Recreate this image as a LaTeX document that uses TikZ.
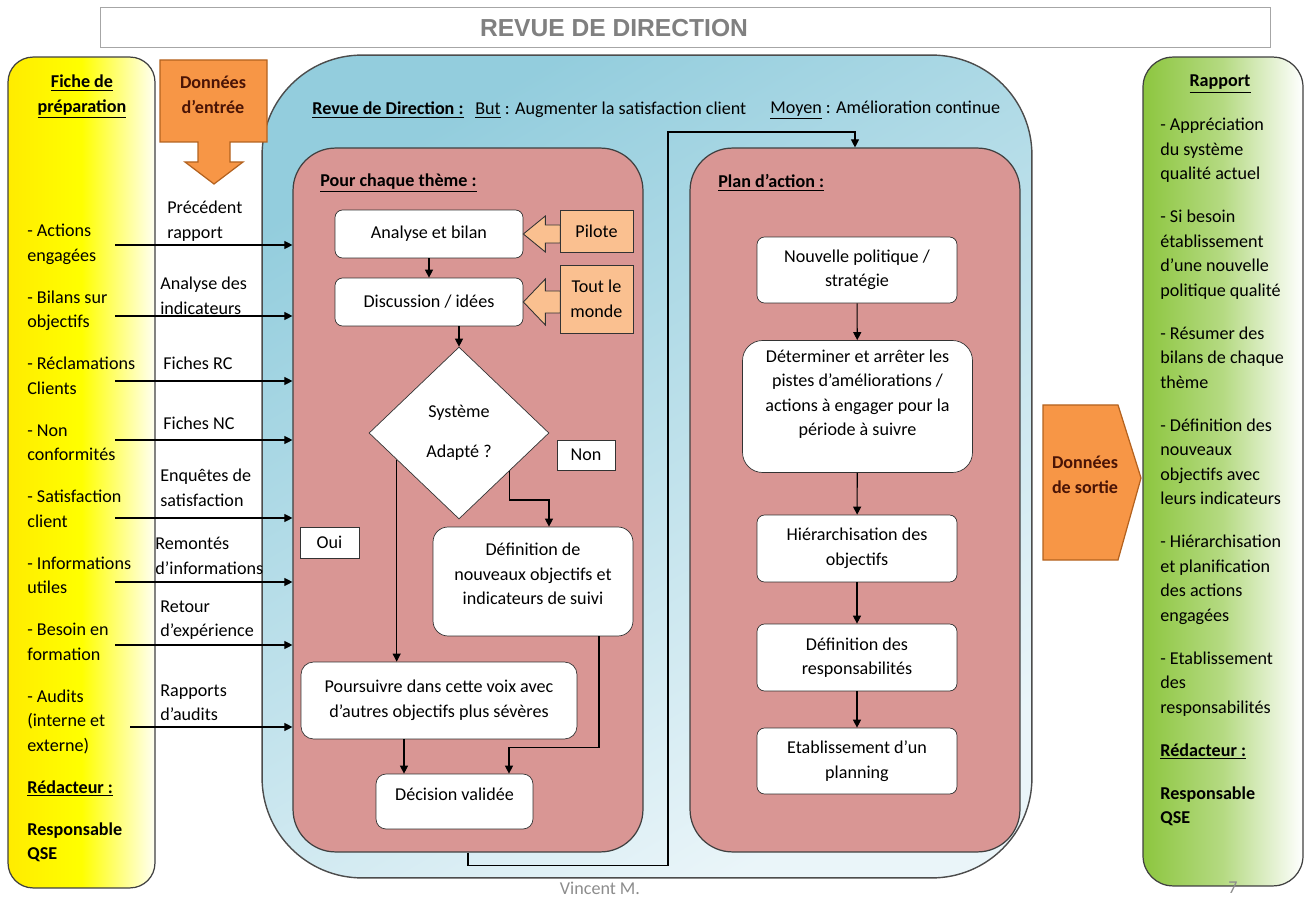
\documentclass[tikz,border=0pt]{standalone}
\usepackage{fontspec}
\setmainfont{Carlito}
\newfontfamily\titlefont{Liberation Sans}
\usepackage{tikz}
\usetikzlibrary{arrows.meta,positioning,shapes.geometric,calc}

\definecolor{pinkfill}{HTML}{D99694}
\definecolor{orangefill}{HTML}{F79646}
\definecolor{orangeline}{HTML}{B3621F}
\definecolor{peach}{HTML}{FAC090}
\definecolor{bluetop}{HTML}{93CDDD}
\definecolor{bluebot}{HTML}{EAF5F9}
\definecolor{lime}{HTML}{8DC63F}
\definecolor{maroon}{HTML}{4A1406}

\begin{document}
\begin{tikzpicture}[
  x=0.02cm, y=-0.02cm,
  every node/.style={font=\fontsize{10.3}{13.94}\selectfont},
  bold/.style={font=\fontsize{10.3}{13.94}\selectfont\bfseries},
  panel/.style={draw=black!75, line width=0.7pt, rounded corners=0.85cm, fill=pinkfill},
  wbox/.style={draw=black!80, fill=white, rounded corners=0.15cm, align=center, minimum width=4cm, minimum height=1.32cm},
  pbox/.style={draw=black!80, fill=peach, align=center, minimum width=1.46cm},
  tag/.style={draw=black!80, fill=white, minimum height=0.6cm},
  lbl/.style={anchor=west, align=left, inner sep=0pt},
  arrow/.style={-{Triangle[length=1.6mm, width=1.6mm]}, line width=0.6pt},
  bigarrow/.style={fill=orangefill, draw=orangeline, line width=0.7pt},
  hollow/.style={fill=peach, draw=black!80, line width=0.5pt}
]
\useasboundingbox (0,0) rectangle (1309,898);

% cadre du titre
\node[draw=black!35, fill=white, minimum width=23.4cm, minimum height=0.8cm] (title) at (685,27) {};
\node[text=black!50, font=\titlefont\fontsize{14}{16}\selectfont\bfseries] (titletxt) at (614,28) {REVUE DE DIRECTION};

% colonnes laterales
\node[draw=black!75, line width=0.7pt, rounded corners=0.5cm, left color=yellow!85!orange, right color=yellow!5, middle color=yellow,
  minimum width=2.94cm, minimum height=16.62cm] (prep) at (81.5,472.5) {};
\node[draw=black!75, line width=0.7pt, rounded corners=0.6cm, left color=lime, right color=white, middle color=lime!65,
  minimum width=3.2cm, minimum height=16.58cm] (rapport) at (1223,471.5) {};

% revue de direction
\node[draw=black!70, line width=0.8pt, rounded corners=2cm, top color=bluetop, bottom color=bluebot, shading angle=30,
  minimum width=15.4cm, minimum height=16.46cm] (revue) at (647,466.5) {};
\node[panel, minimum width=7cm, minimum height=14.08cm] (theme) at (468,500) {};
\node[panel, minimum width=6.6cm, minimum height=14.08cm] (plan) at (855,500) {};

\node[lbl] (revuetxt) at (312,110) {\textbf{\underline{Revue de Direction :}}};
\node[lbl] (but) at (475,110) {\underline{But} : Augmenter la satisfaction client};
\node[lbl] (moyen) at (770,110) {\underline{Moyen} : Amélioration continue};
\node[lbl] (themetxt) at (320,183) {\textbf{\underline{Pour chaque thème :}}};
\node[lbl] (plantxt) at (718,183) {\textbf{\underline{Plan d’action :}}};

% pour chaque theme
\node[wbox, minimum width=3.76cm, minimum height=0.96cm] (analyse) at (429,234) {Analyse et bilan};
\node[wbox, minimum width=3.76cm, minimum height=0.96cm] (discu) at (429,302) {Discussion / idées};
\node[pbox, minimum height=0.84cm] (pilote) at (596.5,231) {Pilote};
\node[pbox, minimum height=1.36cm] (tous) at (596.5,299) {Tout le\\monde};
\node[diamond, draw=black!80, fill=white, minimum width=3.6cm, minimum height=3.44cm, inner sep=0pt, align=center] (diam) at (459,433) {Système\\[0.31cm]Adapté ?};
\node[tag, minimum width=1.16cm] (non) at (586,455) {Non};
\node[tag, minimum width=1.18cm, minimum height=0.62cm] (oui) at (329.5,542.5) {Oui};
\node[wbox, rounded corners=0.3cm, minimum height=2.18cm, text depth=0.31cm] (defin) at (533,581.5) {Définition de\\nouveaux objectifs et\\indicateurs de suivi};
\node[wbox, rounded corners=0.25cm, minimum width=5.52cm, minimum height=1.54cm] (pours) at (439,700.5) {Poursuivre dans cette voix avec\\d’autres objectifs plus sévères};
\node[wbox, rounded corners=0.2cm, minimum width=3.14cm, minimum height=1.1cm, text depth=0.3cm] (decis) at (454.5,801.5) {Décision validée};

\draw[hollow] (analyse.east) -- ++(22,-18) -- ++(0,9) -- ++(15,0) -- ++(0,18) -- ++(-15,0) -- ++(0,9) -- cycle;
\draw[hollow] (discu.east) -- ++(22,-23) -- ++(0,12) -- ++(15,0) -- ++(0,22) -- ++(-15,0) -- ++(0,12) -- cycle;

\coordinate (oui0) at ($(diam.west)!0.31!(diam.south)$);
\coordinate (non0) at ($(diam.east)!0.44!(diam.south)$);
\coordinate (pours0) at ([xshift=-0.7cm]pours.south);
\draw[arrow] (analyse) -- (discu);
\draw[arrow] (diam.north |- discu.south) -- (diam.north);
\draw[arrow] (non0) -- ++(0,29) -| ([xshift=0.32cm]defin.north);
\draw[arrow] (oui0) -- (oui0 |- pours.north);
\draw[arrow] ([xshift=1.32cm]defin.south) -- ++(0,111) -| ([xshift=1.09cm]decis.north);
\draw[arrow] (pours0) -- (pours0 |- decis.north);

% plan d'action
\node[wbox] (nouv) at (857,270) {Nouvelle politique /\\stratégie};
\node[wbox, rounded corners=0.4cm, minimum width=4.6cm, minimum height=2.64cm, text depth=0.55cm] (deter) at (857.5,406.5) {Déterminer et arrêter les\\pistes d’améliorations /\\actions à engager pour la\\période à suivre};
\node[wbox, minimum height=1.34cm] (hier) at (857,548.5) {Hiérarchisation des\\objectifs};
\node[wbox, minimum height=1.34cm] (resp) at (857,657.5) {Définition des\\responsabilités};
\node[wbox] (planning) at (857,761) {Etablissement d’un\\planning};
\draw[arrow] (nouv) -- (deter);
\draw[arrow] (deter) -- (hier);
\draw[arrow] (hier) -- (resp);
\draw[arrow] (resp) -- (planning);

\coordinate (haut) at (668,132);
\draw[arrow] (theme.south) -- ++(0,13) -| (haut) -| (plan.north);

% donnees d'entree / de sortie
\draw[bigarrow] (160,60) -- (267,60) -- (267,142) -- (230,142) -- (230,162) -- (243,162) -- (214,184) -- (185,162) -- (198,162) -- (198,142) -- (160,142) -- cycle;
\node[bold, text=maroon, align=center] (entree) at (213,95) {Données\\d’entrée};
\draw[bigarrow] (1043,405) -- (1118,405) -- (1141,478) -- (1118,560) -- (1043,560) -- cycle;
\node[bold, text=maroon, align=center] (sortie) at (1085,475) {Données\\de sortie};

% fiche de preparation
\node[bold, align=center] (fiche) at (82,97) {\underline{Fiche de}\\\underline{préparation}};
\node[lbl, anchor=north west] (prepitems) at (27,224) {- Actions\\engagées\\[0.35cm]- Bilans sur\\objectifs\\[0.35cm]- Réclamations\\Clients\\[0.35cm]- Non\\conformités\\[0.35cm]- Satisfaction\\client\\[0.35cm]- Informations\\utiles\\[0.35cm]- Besoin en\\formation\\[0.35cm]- Audits\\(interne et\\externe)\\[0.35cm]\textbf{\underline{Rédacteur :}}\\[0.35cm]\textbf{Responsable}\\\textbf{QSE}};

\draw[arrow] (115,245) coordinate (in1) -- (in1 -| theme.west);
\draw[arrow] (115,316) coordinate (in2) -- (in2 -| theme.west);
\draw[arrow] (115,381) coordinate (in3) -- (in3 -| theme.west);
\draw[arrow] (115,440) coordinate (in4) -- (in4 -| theme.west);
\draw[arrow] (115,518) coordinate (in5) -- (in5 -| theme.west);
\draw[arrow] (115,582) coordinate (in6) -- (in6 -| theme.west);
\draw[arrow] (115,645) coordinate (in7) -- (in7 -| theme.west);
\draw[arrow] (130,727) coordinate (in8) -- (in8 -| theme.west);
\node[lbl] (l1) at (167,221) {Précédent\\rapport};
\node[lbl] (l2) at (160,296) {Analyse des\\indicateurs};
\node[lbl] (l3) at (163,363) {Fiches RC};
\node[lbl] (l4) at (163,423) {Fiches NC};
\node[lbl] (l5) at (160,488) {Enquêtes de\\satisfaction};
\node[lbl] (l6) at (155,556) {Remontés\\d’informations};
\node[lbl] (l7) at (160,620) {Retour\\d’expérience};
\node[lbl] (l8) at (160,703) {Rapports\\d’audits};

% rapport
\node[bold] (rapporttxt) at (1220,84) {\underline{Rapport}};
\node[lbl, anchor=north west] (rapitems) at (1160,118) {- Appréciation\\du système\\qualité actuel\\[0.37cm]- Si besoin\\établissement\\d’une nouvelle\\politique qualité\\[0.37cm]- Résumer des\\bilans de chaque\\thème\\[0.37cm]- Définition des\\nouveaux\\objectifs avec\\leurs indicateurs\\[0.37cm]- Hiérarchisation\\et planification\\des actions\\engagées\\[0.37cm]- Etablissement\\des\\responsabilités\\[0.37cm]\textbf{\underline{Rédacteur :}}\\[0.37cm]\textbf{Responsable}\\\textbf{QSE}};

% pied de page
\node[text=black!45] (auteur) at (600,888) {Vincent M.};
\node[text=black!45] (page) at (1233,888) {7};
\end{tikzpicture}
\end{document}
